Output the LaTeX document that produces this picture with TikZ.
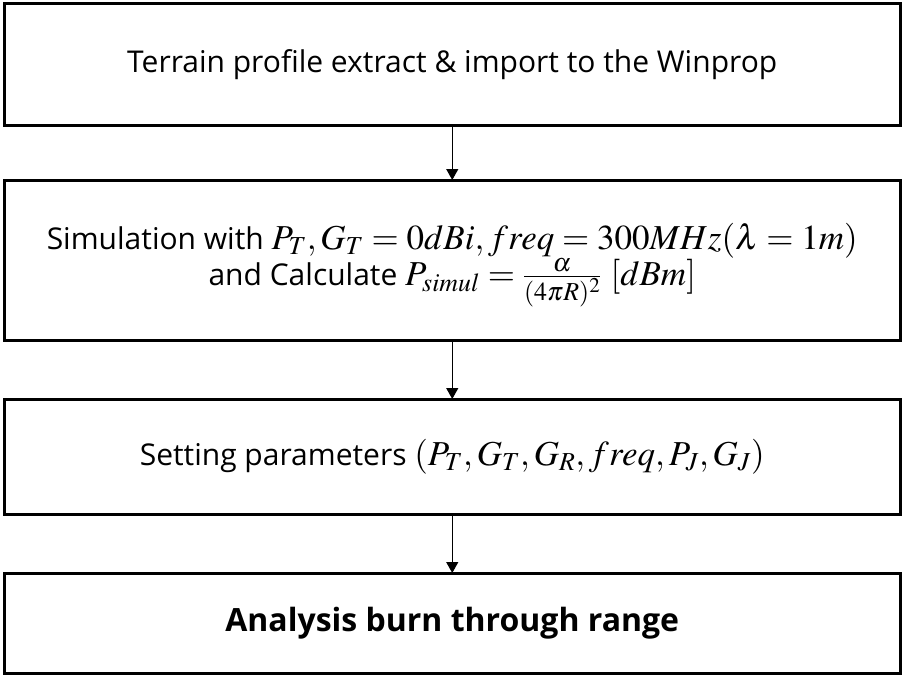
\documentclass[tikz,border=0pt]{standalone}
\usepackage{mathptmx}
\usepackage{fontspec}
\setmainfont{Open Sans}
\usetikzlibrary{arrows.meta}
\newcommand{\bm}[1]{{\fontsize{35}{38}\selectfont$#1$}}
\begin{document}
\begin{tikzpicture}[x=1pt,y=1pt,
  stepbox/.style={draw=black, line width=3pt, rectangle, inner sep=0pt, outer sep=0pt,
    minimum width=896pt, font=\fontsize{30}{36}\selectfont, align=center},
  conn/.style={line width=1.2pt, -{Triangle[length=11pt,width=12pt]}}]
\useasboundingbox (0,0) rectangle (906,-677);
\fill[white] (0,0) rectangle (906,-677);
\node[stepbox, minimum height=122pt] (b1) at (452.25,-65) {Terrain profile extract \& import to the Winprop};
\node[stepbox, minimum height=160pt] (b2) at (452.25,-260) {};
\node[font=\fontsize{30}{36}\selectfont, align=center, inner sep=0pt] (t2) at ([yshift=-5pt]b2.center) {Simulation with \bm{P_T, G_T = 0dBi, freq = 300MHz(\lambda = 1m)}\\ and Calculate \bm{P_{simul} = \frac{\alpha}{(4\pi R)^2}\ [dBm]}};
\node[stepbox, minimum height=115pt] (b3) at (452.25,-456.5) {Setting parameters \bm{(P_T, G_T, G_R, freq, P_J, G_J)}};
\node[stepbox, minimum height=100pt, font=\fontsize{32}{36}\selectfont\bfseries] (b4) at (452.25,-623) {Analysis burn through range};
\draw[conn] (b1.south) -- (b2.north);
\draw[conn] (b2.south) -- (b3.north);
\draw[conn] (b3.south) -- (b4.north);
\end{tikzpicture}
\end{document}
